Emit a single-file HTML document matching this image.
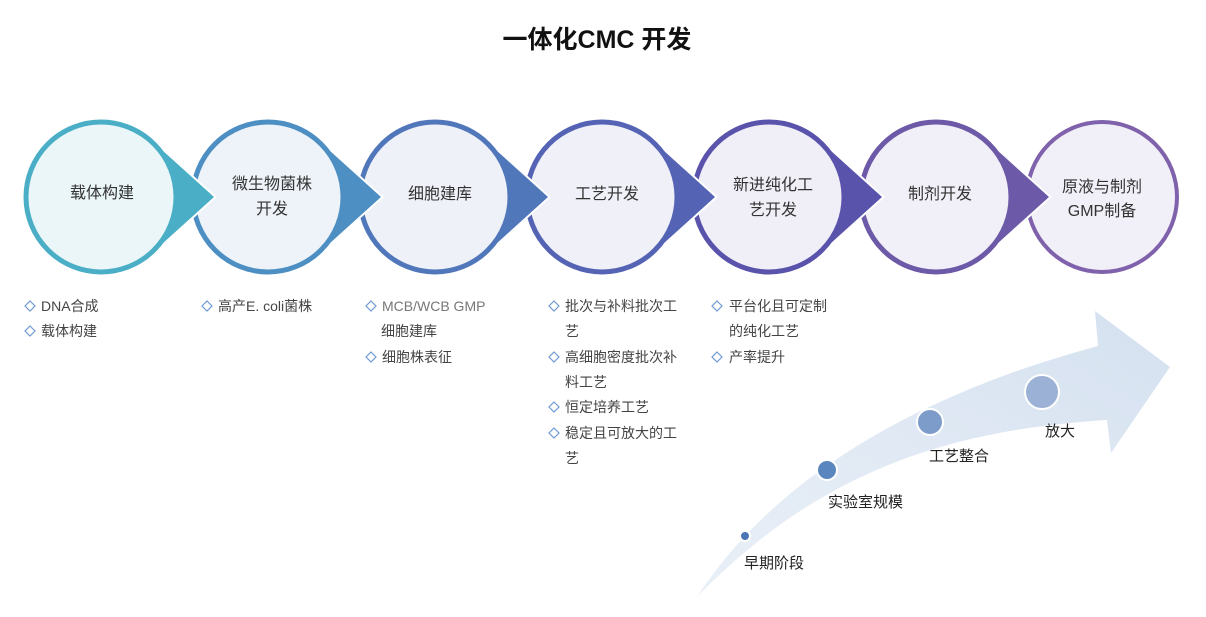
<!DOCTYPE html>
<html><head><meta charset="utf-8"><style>
body{margin:0;background:#fff;}
svg text{font-family:"Liberation Sans","Noto Sans CJK SC",sans-serif;}
</style></head><body>
<svg width="1206" height="612" viewBox="0 0 1206 612" xmlns="http://www.w3.org/2000/svg">
<defs>
<linearGradient id="ag" x1="0" y1="1" x2="1" y2="0">
<stop offset="0" stop-color="#dbe5f2" stop-opacity="0.6"/>
<stop offset="1" stop-color="#d5e1f0"/>
</linearGradient>
<g id="d"><path d="M0,-5 L5,0 L0,5 L-5,0 Z" fill="none" stroke="#6f9bd2" stroke-width="1.2"/></g>
<path id="tri" d="M51,-56 L113,0 L51,56 Z"/>
</defs>
<text x="597" y="48" text-anchor="middle" font-size="25" font-weight="bold" fill="#111">一体化CMC 开发</text>

<path d="M697,597 C760,500 880,405 1098,346 L1095,311 L1170,367 L1111,453 L1107,420 C950,430 820,470 697,597 Z" fill="url(#ag)"/>
<circle cx="745" cy="536" r="5" fill="#4a76b5" stroke="#fff" stroke-width="2"/>
<circle cx="827" cy="470" r="10" fill="#5a86c0" stroke="#fff" stroke-width="2"/>
<circle cx="930" cy="422" r="13" fill="#7d9cca" stroke="#fff" stroke-width="2"/>
<circle cx="1042" cy="392" r="17" fill="#9bb1d6" stroke="#fff" stroke-width="2"/>
<g font-size="15" fill="#222">
<text x="744" y="568">早期阶段</text>
<text x="828" y="507">实验室规模</text>
<text x="929" y="461">工艺整合</text>
<text x="1045" y="436">放大</text>
</g>

<g>
<g transform="translate(1102,197)">
<circle r="75" fill="#f1eff7" stroke="#7f62ab" stroke-width="4"/>
</g>
<g transform="translate(936,197)">
<use href="#tri" fill="#6c59a8" stroke="#fff" stroke-width="4"/>
<circle r="77" fill="#fff"/>
<use href="#tri" fill="#6c59a8"/>
<circle r="75" fill="#f1eff7" stroke="#6c59a8" stroke-width="5"/>
</g>
<g transform="translate(769,197)">
<use href="#tri" fill="#5a53ac" stroke="#fff" stroke-width="4"/>
<circle r="77" fill="#fff"/>
<use href="#tri" fill="#5a53ac"/>
<circle r="75" fill="#f0eff8" stroke="#5a53ac" stroke-width="5"/>
</g>
<g transform="translate(602,197)">
<use href="#tri" fill="#5563b5" stroke="#fff" stroke-width="4"/>
<circle r="77" fill="#fff"/>
<use href="#tri" fill="#5563b5"/>
<circle r="75" fill="#eff0f8" stroke="#5563b5" stroke-width="5"/>
</g>
<g transform="translate(435,197)">
<use href="#tri" fill="#5177bb" stroke="#fff" stroke-width="4"/>
<circle r="77" fill="#fff"/>
<use href="#tri" fill="#5177bb"/>
<circle r="75" fill="#eef1f8" stroke="#5177bb" stroke-width="5"/>
</g>
<g transform="translate(268,197)">
<use href="#tri" fill="#4d8fc3" stroke="#fff" stroke-width="4"/>
<circle r="77" fill="#fff"/>
<use href="#tri" fill="#4d8fc3"/>
<circle r="75" fill="#edf3f8" stroke="#4d8fc3" stroke-width="5"/>
</g>
<g transform="translate(101,197)">
<use href="#tri" fill="#49aec6" stroke="#fff" stroke-width="4"/>
<circle r="77" fill="#fff"/>
<use href="#tri" fill="#49aec6"/>
<circle r="75" fill="#eaf6f8" stroke="#49aec6" stroke-width="5"/>
</g>
</g>
<g font-size="16" fill="#333" text-anchor="middle">
<text x="102" y="198">载体构建</text>
<text x="272" y="189">微生物菌株</text>
<text x="272" y="214">开发</text>
<text x="440" y="199">细胞建库</text>
<text x="607" y="199">工艺开发</text>
<text x="773" y="190">新进纯化工</text>
<text x="773" y="215">艺开发</text>
<text x="940" y="199">制剂开发</text>
<text x="1102" y="192">原液与制剂</text>
<text x="1102" y="216">GMP制备</text>
</g>

<g font-size="14" fill="#444">
<use href="#d" x="30" y="306"/><text x="41" y="311">DNA合成</text>
<use href="#d" x="30" y="331"/><text x="41" y="336">载体构建</text>
<use href="#d" x="207" y="306"/><text x="218" y="311">高产E. coli菌株</text>
<use href="#d" x="371" y="306"/><text x="382" y="311" fill="#777">MCB/WCB GMP</text>
<text x="381" y="336">细胞建库</text>
<use href="#d" x="371" y="357"/><text x="382" y="362">细胞株表征</text>
<use href="#d" x="554" y="306"/><text x="565" y="311">批次与补料批次工</text>
<text x="565" y="336">艺</text>
<use href="#d" x="554" y="357"/><text x="565" y="362">高细胞密度批次补</text>
<text x="565" y="387">料工艺</text>
<use href="#d" x="554" y="407"/><text x="565" y="412">恒定培养工艺</text>
<use href="#d" x="554" y="433"/><text x="565" y="438">稳定且可放大的工</text>
<text x="565" y="463">艺</text>
<use href="#d" x="717" y="306"/><text x="729" y="311">平台化且可定制</text>
<text x="729" y="336">的纯化工艺</text>
<use href="#d" x="717" y="357"/><text x="729" y="362">产率提升</text>
</g>
</svg>
</body></html>
